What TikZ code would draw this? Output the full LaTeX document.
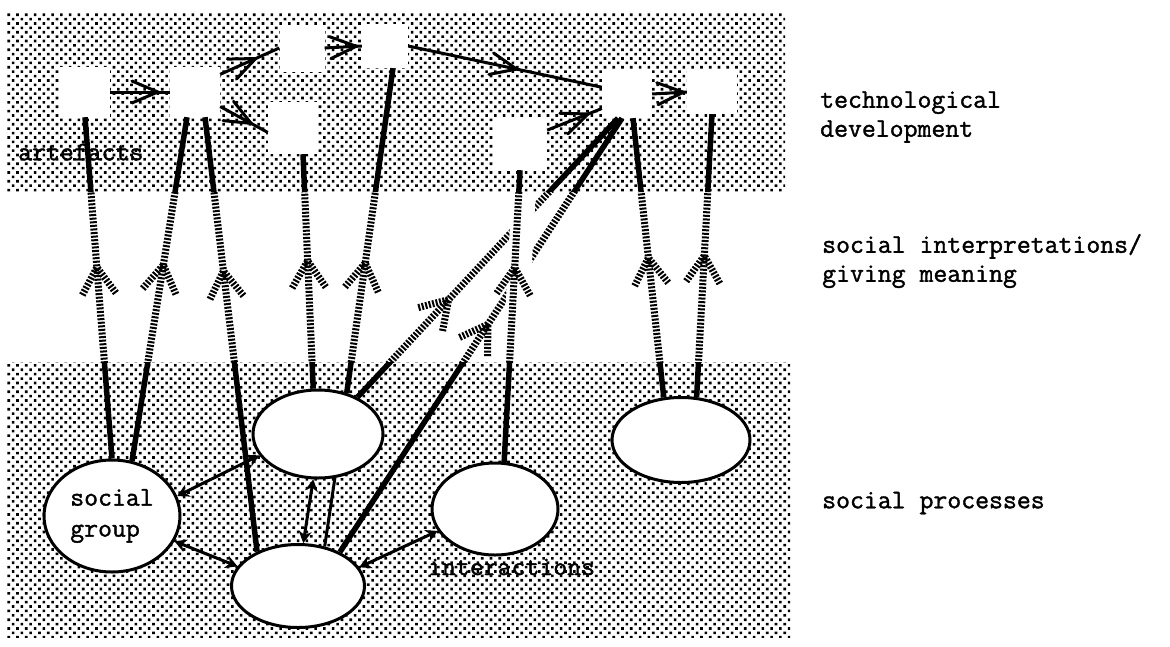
\documentclass[tikz,border=0pt]{standalone}
\usepackage{fontspec}
\newfontfamily\twfont{Latin Modern Mono}[FakeBold=1.4]
\usetikzlibrary{decorations.markings,arrows.meta,patterns.meta,shapes.geometric}
\newcommand\pbLinks{%
  \draw[lk,hd=0.44] (b1.south) -- (sg.north);
  \draw[lk,hd=0.43] ([xshift=-8pt]b2.south) -- (sg.70);
  \draw[lk,hd=0.354] ([xshift=10pt]b2.south) -- (be.140);
  \draw[lk,hd=0.455] ([xshift=10pt]b5.south) -- (te.96);
  \draw[lk,hd=0.6] ([xshift=8pt]b4.south) -- (te.55);
  \draw[lk,hd=0.65] ([xshift=-9pt]b7.south) -- (te.43);
  \draw[lk,hd=0.475] ([xshift=-5pt]b7.south) -- (be.39);
  \path[halo] ([xshift=5pt]b6.south) -- ([xshift=5pt]ie.79);
  \draw[lk,hd=0.334] (b6.south) -- (ie.79);
  \draw[lk,hd=0.5] ([xshift=6pt]b7.south) -- (re.112);
  \draw[lk,hd=0.5] (b8.south) -- (re.70);
}
\begin{document}
\begin{tikzpicture}[x=1pt,y=-1pt,
  band/.style={pattern={Dots[distance=6.2pt,radius=1.85pt,angle=45]},pattern color=black},
  artbox/.style={fill=white,inner sep=0pt},
  grp/.style={ellipse,draw=black,line width=3pt,fill=white,inner sep=0pt},
  lbl/.style={font=\fontsize{27}{29}\selectfont\twfont,inner sep=0pt,align=left,anchor=west},
  hatch/.style={line width=7pt,dash pattern=on 2pt off 1.6pt},
  bandline/.style={line width=5.5pt},
  topline/.style={line width=3pt},
  topmid/.style={postaction={decorate,decoration={markings,mark=at position #1 with {\draw[line width=3pt,line cap=round] (-26pt,11pt) -- (0pt,0pt) -- (-26pt,-11pt);}}}},
  uphead/.style={postaction={decorate,decoration={markings,mark=at position #1 with {\draw[hatch] (27pt,17pt) -- (0pt,0pt) -- (27pt,-17pt);}}}},
  hd/.style={},
  lk/.style={},
  halo/.style={},
  dbl/.style={line width=3pt,{Stealth[length=12pt,width=13pt]}-{Stealth[length=12pt,width=13pt]}},
  plainlink/.style={line width=3pt}
]
\useasboundingbox (0,0) rectangle (1170,646);
% shaded bands
\path[band] (7,13) rectangle (785,192);
\path[band] (7,362) rectangle (790,637);
% artefacts
\node[artbox,minimum width=50pt,minimum height=50pt] (b1) at (85,92) {};
\node[artbox,minimum width=50pt,minimum height=50pt] (b2) at (195,92) {};
\node[artbox,minimum width=45pt,minimum height=47pt] (b3) at (302,48) {};
\node[artbox,minimum width=46pt,minimum height=44pt] (b4) at (385,46) {};
\node[artbox,minimum width=50pt,minimum height=52pt] (b5) at (293,128) {};
\node[artbox,minimum width=54pt,minimum height=52pt] (b6) at (520,144) {};
\node[artbox,minimum width=50pt,minimum height=48pt] (b7) at (627,94) {};
\node[artbox,minimum width=50pt,minimum height=44pt] (b8) at (712,92) {};
% social groups
\node[grp,minimum width=136pt,minimum height=112pt,font=\fontsize{27}{31}\selectfont\twfont,align=left] (sg) at (112,516) {social\\group};
\node[grp,minimum width=130pt,minimum height=88pt] (te) at (318,434) {};
\node[grp,minimum width=133pt,minimum height=83pt] (be) at (298,586) {};
\node[grp,minimum width=126pt,minimum height=92pt] (ie) at (495,509) {};
\node[grp,minimum width=138pt,minimum height=85pt] (re) at (681,440) {};
% labels
\node[lbl] (artlbl) at (18,152) {artefacts};
\node[lbl] (intlbl) at (428,567) {interactions};
\node[lbl] (techlbl) at (820,117) {technological\\development};
\node[lbl] (interplbl) at (822,261) {social interpretations/\\giving meaning};
\node[lbl] (proclbl) at (822,503) {social processes};
% technological development arrows
\draw[topline,topmid=0.8] (b1.east) -- (b2.west);
\draw[topline,topmid=0.6] (b2.35) -- (b3.west);
\draw[topline,topmid=0.65] (b2.-30) -- (b5.190);
\draw[topline,topmid=0.85] (b3.east) -- (b4.west);
\draw[topline,topmid=0.56] (b4.east) -- (b7.165);
\draw[topline,topmid=0.75] (b6.27) -- (b7.210);
\draw[topline,topmid=0.9] (b7.east) -- (b8.west);
% interpretations: hatched in the middle band
\begin{scope}[lk/.style={hatch},hd/.style={uphead=#1},halo/.style={draw=white,line width=24pt}]
\clip (0,192) rectangle (1170,362);
\pbLinks
\end{scope}
% solid inside the shaded bands
\begin{scope}[lk/.style={bandline}]
\clip (0,0) rectangle (1170,192) (0,362) rectangle (1170,646);
\pbLinks
\end{scope}
% interactions between groups
\draw[dbl] (sg.17) -- (te.200);
\draw[dbl] (sg.338) -- (be.162);
\draw[dbl] (te.264) -- (be.83);
\draw[plainlink] (te.291) -- (be.56);
\draw[dbl] (be.17) -- (ie.201);
\end{tikzpicture}
\end{document}
